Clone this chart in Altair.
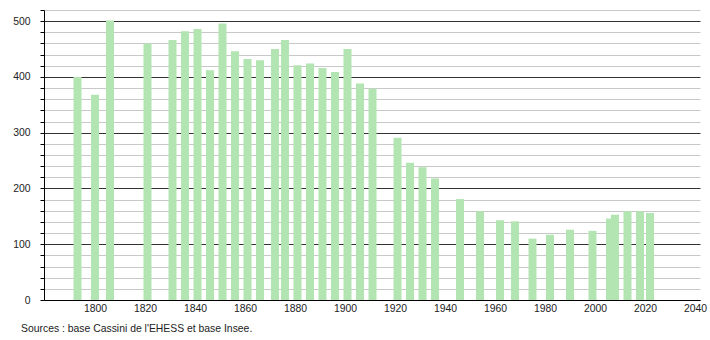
import altair as alt
import pandas as pd

years = [1793, 1800, 1806, 1821, 1831, 1836, 1841, 1846, 1851, 1856,
         1861, 1866, 1872, 1876, 1881, 1886, 1891, 1896, 1901, 1906,
         1911, 1921, 1926, 1931, 1936, 1946, 1954, 1962, 1968, 1975,
         1982, 1990, 1999, 2006, 2008, 2013, 2018, 2022]
population = [400, 368, 501, 460, 466, 482, 486, 412, 496, 446,
              432, 430, 450, 466, 421, 424, 416, 409, 450, 388,
              379, 291, 246, 238, 218, 181, 159, 143, 141, 110,
              117, 126, 124, 146, 153, 159, 159, 156]
x_ticks = [1800, 1820, 1840, 1860, 1880, 1900, 1920, 1940, 1960, 1980, 2000, 2020, 2040]
y_ticks = list(range(0, 521, 20))
source_text = "Sources : base Cassini de l'EHESS et base Insee."

df = pd.DataFrame({"year": years, "pop": population})

FONT = "Liberation Sans"
FS = 10.4

bars = alt.Chart(df).mark_bar(width=8, color="#b2e5b2").encode(
    x=alt.X("year:Q",
            scale=alt.Scale(domain=[1779.6, 2042], nice=False, zero=False, padding=0),
            axis=alt.Axis(values=x_ticks, title=None, format="d", grid=False,
                          ticks=False, labelPadding=3, domainColor="#000",
                          labelFontSize=FS, labelColor="#222", labelFont=FONT)),
    y=alt.Y("pop:Q",
            scale=alt.Scale(domain=[0, 520], nice=False),
            axis=alt.Axis(values=y_ticks, title=None,
                          labelExpr="datum.value % 100 === 0 ? datum.label : ''",
                          tickSize=4, tickColor="#000", domainColor="#000",
                          labelPadding=10, labelFontSize=FS, labelColor="#222",
                          labelFont=FONT,
                          gridColor={"condition": {"test": "datum.value % 100 === 0", "value": "#333333"},
                                     "value": "#c8c8c8"})),
)

caption = alt.Chart(pd.DataFrame({"t": [source_text]})).mark_text(
    align="left", baseline="middle", font=FONT, fontSize=FS, color="#222"
).encode(x=alt.value(-23), y=alt.value(319), text="t:N")

chart = alt.layer(bars, caption).properties(
    width=656, height=290,
    padding={"left": 44, "top": 10, "right": 10, "bottom": 40},
    autosize=alt.AutoSizeParams(type="none"),
).configure_view(stroke=None).configure_axis(domainWidth=1)

chart.save("out.html", embed_options={"renderer": "svg", "actions": False})
